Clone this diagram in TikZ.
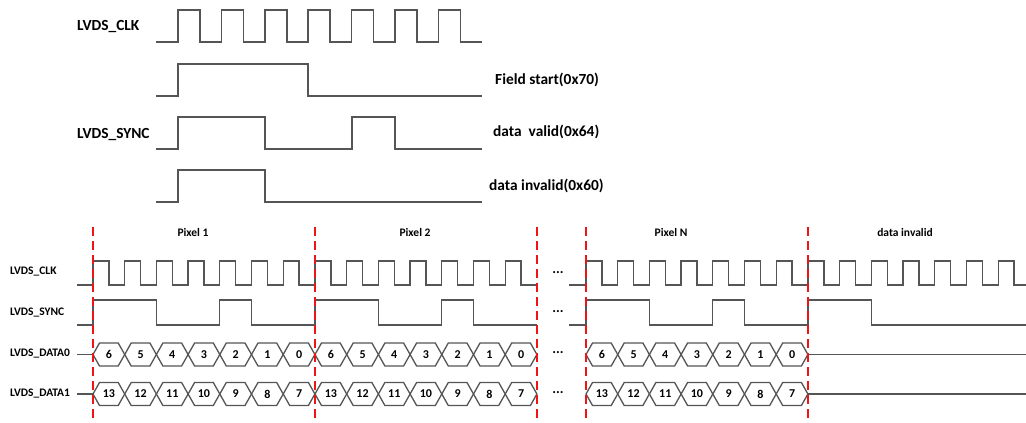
\documentclass[tikz,border=0pt]{standalone}
\usepackage{fontspec}
\setmainfont{Carlito}
\definecolor{wavegray}{RGB}{85,85,85}
\definecolor{guidered}{RGB}{240,20,20}

\begin{document}
\begin{tikzpicture}[x=1pt,y=-1pt,
    wave/.style={draw=wavegray,line width=1.6pt},
    thinwave/.style={draw=wavegray,line width=1.3pt},
    guide/.style={draw=guidered,line width=2.3pt,dash pattern=on 9pt off 5pt},
    biglabel/.style={font=\fontsize{15.4}{18}\selectfont\bfseries,inner sep=0pt},
    smalllabel/.style={font=\fontsize{11.5}{13}\selectfont\bfseries,inner sep=0pt},
    bitlabel/.style={font=\fontsize{12}{14}\selectfont\bfseries,inner sep=0pt},
    gaplabel/.style={font=\fontsize{14}{16}\selectfont\bfseries,inner sep=0pt}]
    \useasboundingbox (0,0) rectangle (1026,423);

    % sync word examples
    \node[biglabel,anchor=west] (topclk) at (77,27) {LVDS\_CLK};
    \draw[wave] (156,42) -- (178,42)
        \foreach \i in {0,...,6} { -- ++(0,-32) -- ++(22,0) -- ++(0,32) -- ++(21.4,0) };

    \draw[wave] (156,96) -- (178,96) -- (178,64) -- (308,64) -- (308,96) -- (482,96);
    \node[biglabel,anchor=west] (fieldlabel) at (495,80) {Field start(0x70)};

    \node[biglabel,anchor=west] (topsync) at (77,135) {LVDS\_SYNC};
    \draw[wave] (156,149) -- (178,149) -- (178,117) -- (265,117) -- (265,149)
        -- (352,149) -- (352,117) -- (395,117) -- (395,149) -- (482,149);
    \node[biglabel,anchor=west] (validlabel) at (493,132) {data\ \ valid(0x64)};

    \draw[wave] (156,202) -- (178,202) -- (178,170) -- (265,170) -- (265,202) -- (482,202);
    \node[biglabel,anchor=west] (invalidlabel) at (489,186) {data invalid(0x60)};

    % lanes
    \node[smalllabel,anchor=west] (clkrow) at (10,272) {LVDS\_CLK};
    \node[smalllabel,anchor=west] (syncrow) at (10,313) {LVDS\_SYNC};
    \node[smalllabel,anchor=west] (datazero) at (10,354) {LVDS\_DATA0};
    \node[smalllabel,anchor=west] (dataone) at (10,394) {LVDS\_DATA1};

    \draw[thinwave] (77,285) -- (93,285);
    \draw[thinwave] (77,325) -- (93,325);
    \draw[thinwave] (77,354.5) -- (93,354.5);
    \draw[thinwave] (77,394) -- (93,394);
    \draw[thinwave] (569,285) -- (586,285);
    \draw[thinwave] (569,325) -- (586,325);

    % pixels
    \node[smalllabel] (pixone) at (193,233) {Pixel 1};
    \node[smalllabel] (pixtwo) at (415,233) {Pixel 2};
    \node[smalllabel] (pixn) at (671,233) {Pixel N};
    \node[smalllabel] (nodata) at (905,233) {data invalid};

    \foreach \x/\name in {93/1, 315/2, 586/N} {
        \draw[thinwave] (\x,285)
            \foreach \i in {0,...,6} { -- ++(0,-24) -- ++(15.85,0) -- ++(0,24) -- ++(15.85,0) };
        \draw[thinwave] (\x,325) -- ++(0,-25) -- ++(63.4,0) -- ++(0,25) -- ++(63.4,0)
            -- ++(0,-25) -- ++(31.7,0) -- ++(0,25) -- ++(63.4,0);
        \foreach \k/\lo/\hi in {0/6/13, 1/5/12, 2/4/11, 3/3/10, 4/2/9, 5/1/8, 6/0/7} {
            \pgfmathsetmacro\a{\x+\k*31.7}
            \draw[thinwave] (\a,354.5) -- ++(6.5,-11.5) -- ++(18.7,0) -- ++(6.5,11.5)
                -- ++(-6.5,11.5) -- ++(-18.7,0) -- cycle;
            \node[bitlabel] (dzero-\name-\k) at (\a+15.85,354.5) {\lo};
            \draw[thinwave] (\a,394) -- ++(6.5,-11.5) -- ++(18.7,0) -- ++(6.5,11.5)
                -- ++(-6.5,11.5) -- ++(-18.7,0) -- cycle;
            \node[bitlabel] (done-\name-\k) at (\a+15.85,394) {\hi};
        }
    }

    % data invalid
    \draw[thinwave] (808,285)
        \foreach \i in {0,...,5} { -- ++(0,-24) -- ++(15.85,0) -- ++(0,24) -- ++(15.85,0) }
        -- ++(0,-24) -- ++(15.85,0) -- ++(0,24) -- (1026,285);
    \draw[thinwave] (808,325) -- ++(0,-25) -- ++(63.4,0) -- ++(0,25) -- (1026,325);
    \draw[thinwave] (808,354.5) -- (1026,354.5);
    \draw[thinwave] (808,394) -- (1026,394);

    \foreach \y/\n in {273/a, 312/b, 353/c, 393/d}
        \node[gaplabel] (dots\n) at (558,\y) {...};

    % boundaries
    \foreach \x in {93,315,537,586,808}
        \draw[guide] (\x,227) -- (\x,423);
\end{tikzpicture}
\end{document}
